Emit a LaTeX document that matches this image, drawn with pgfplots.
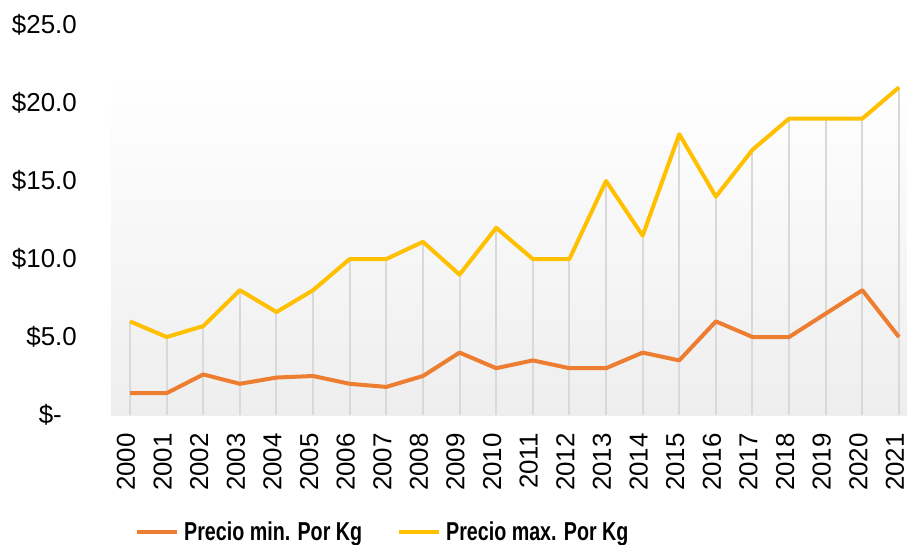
\documentclass[border=0pt]{standalone}
\usepackage{pgfplots}
\usepackage{pgfplotstable}
\pgfplotsset{compat=1.18}
\usepackage{fontspec}
\setmainfont{Liberation Sans}
\definecolor{cmin}{HTML}{ED7D31}
\definecolor{cmax}{HTML}{FFC000}
\definecolor{gridc}{HTML}{D9D9D9}
\definecolor{bgbot}{HTML}{EEEEEE}

\pgfplotstableread{
x minp maxp
0 1.4 6.0
1 1.4 5.0
2 2.6 5.7
3 2.0 8.0
4 2.4 6.6
5 2.5 8.0
6 2.0 10.0
7 1.8 10.0
8 2.5 11.1
9 4.0 9.0
10 3.0 12.0
11 3.5 10.0
12 3.0 10.0
13 3.0 15.0
14 4.0 11.5
15 3.5 18.0
16 6.0 14.0
17 5.0 17.0
18 5.0 19.0
19 6.5 19.0
20 8.0 19.0
21 5.0 21.0
}\datatable

\begin{document}
\begin{tikzpicture}
\begin{axis}[
  scale only axis, width=796bp, height=390bp,
  xmin=-0.52, xmax=21.22, ymin=0, ymax=25,
  axis x line*=bottom, axis y line*=left,
  x axis line style={draw=gridc, line width=2bp, -},
  y axis line style={draw=none},
  xtick={0,1,...,21},
  xticklabels={2000,2001,2002,2003,2004,2005,2006,2007,2008,2009,2010,2011,2012,2013,2014,2015,2016,2017,2018,2019,2020,2021},
  ytick={0,5,10,15,20,25},
  yticklabels={\$-\rule{15bp}{0pt},\$5.0,\$10.0,\$15.0,\$20.0,\$25.0},
  major tick length=0pt,
  tick style={draw=none},
  tick label style={font=\fontsize{26}{30}\selectfont, inner sep=0pt},
  yticklabel style={anchor=east},
  yticklabel shift=34bp,
  xticklabel style={xshift=-4bp, rotate=90, anchor=east},
  xticklabel shift=18bp,
  clip=false,
  legend columns=2,
  legend style={at={(0,0)}, anchor=west, xshift=24bp, yshift=-117bp,
    draw=none, fill=none, inner sep=0pt,
    font=\fontsize{26}{30}\selectfont\bfseries,
    nodes={inner sep=0pt},
    /tikz/every odd column/.append style={column sep=5bp},
    /tikz/every even column/.append style={column sep=35bp}},
  legend image code/.code={\draw[#1, line width=4bp] (0bp,0bp) -- (40bp,0bp);},
]
\shade[top color=white, bottom color=bgbot] (rel axis cs:0,0) rectangle (rel axis cs:1,0.872);
\addplot[ycomb, draw=gridc, line width=2bp, forget plot] table[x=x, y=maxp] {\datatable};
\addplot[cmin, line width=4bp, line join=round] table[x=x, y=minp] {\datatable};
\addlegendentry{\scalebox{0.76}[1]{Precio min. Por Kg}}
\addplot[cmax, line width=4bp, line join=round] table[x=x, y=maxp] {\datatable};
\addlegendentry{\scalebox{0.76}[1]{Precio max. Por Kg}}
\end{axis}
\pgfresetboundingbox
\useasboundingbox ([xshift=-111bp, yshift=-130bp]current axis.south west) rectangle ([yshift=25bp]current axis.north east);
\end{tikzpicture}
\end{document}
